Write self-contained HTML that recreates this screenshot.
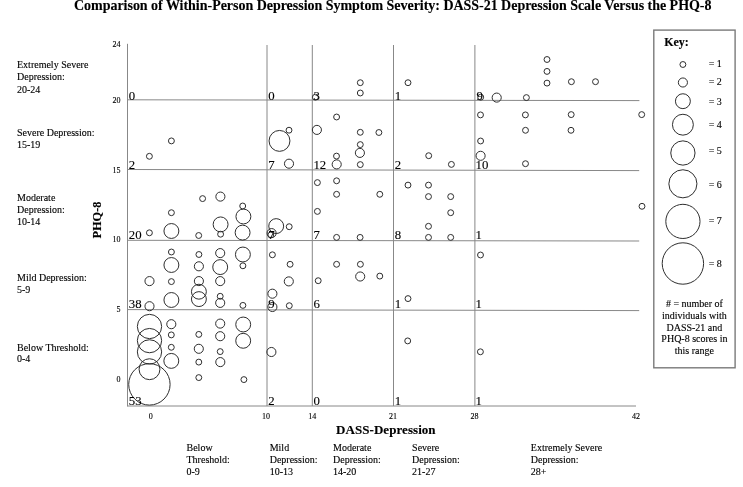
<!DOCTYPE html>
<html><head><meta charset="utf-8"><style>
html,body{margin:0;padding:0;background:#fff;}
svg{display:block;will-change:transform;}
text{font-family:"Liberation Serif",serif;fill:#000;stroke:#000;stroke-width:0.12px;}
</style></head><body>
<svg width="743" height="487" viewBox="0 0 743 487">
<rect width="743" height="487" fill="#fff"/>
<text x="74" y="9.6" font-size="14" font-weight="bold" fill="#000" stroke-width="0" textLength="637.5" lengthAdjust="spacing">Comparison of Within-Person Depression Symptom Severity: DASS-21 Depression Scale Versus the PHQ-8</text>
<g stroke="#888" stroke-width="1" fill="none">
<line x1="127.5" y1="99.8" x2="639.4" y2="100.6"/>
<line x1="127.5" y1="169.5" x2="639.2" y2="170.6"/>
<line x1="127.5" y1="240.3" x2="639.2" y2="241.0"/>
<line x1="127.5" y1="309.6" x2="639.2" y2="310.6"/>
<line x1="127.5" y1="406.0" x2="636" y2="406.0"/>
<line x1="267.0" y1="45" x2="267.0" y2="406"/>
<line x1="312.3" y1="45" x2="312.3" y2="406"/>
<line x1="393.5" y1="45" x2="393.5" y2="406"/>
<line x1="474.9" y1="45" x2="474.9" y2="406"/>
<line x1="127.5" y1="43.8" x2="127.5" y2="406.5"/>
</g>
<g stroke="#2e2e2e" stroke-width="1.0" fill="none">
<circle cx="315.4" cy="97.2" r="2.95"/><circle cx="360.3" cy="82.7" r="2.95"/><circle cx="360.3" cy="93.0" r="2.95"/><circle cx="408.0" cy="82.7" r="2.95"/><circle cx="480.7" cy="97.2" r="2.95"/><circle cx="496.7" cy="97.6" r="4.55"/><circle cx="526.4" cy="97.6" r="2.95"/><circle cx="547.0" cy="59.5" r="2.95"/><circle cx="547.0" cy="71.4" r="2.95"/><circle cx="547.0" cy="83.1" r="2.95"/><circle cx="571.4" cy="81.7" r="2.95"/><circle cx="595.5" cy="81.7" r="2.95"/><circle cx="171.4" cy="140.9" r="2.95"/><circle cx="149.4" cy="156.3" r="2.95"/><circle cx="279.5" cy="140.9" r="10.45"/><circle cx="289.0" cy="130.2" r="2.95"/><circle cx="289.0" cy="163.7" r="4.55"/><circle cx="316.9" cy="129.9" r="4.55"/><circle cx="336.6" cy="117.0" r="2.95"/><circle cx="360.3" cy="132.3" r="2.95"/><circle cx="378.9" cy="132.5" r="2.95"/><circle cx="360.3" cy="144.6" r="2.95"/><circle cx="359.9" cy="152.9" r="4.55"/><circle cx="360.3" cy="164.6" r="2.95"/><circle cx="336.5" cy="156.1" r="2.95"/><circle cx="336.7" cy="164.4" r="4.55"/><circle cx="428.7" cy="155.7" r="2.95"/><circle cx="451.4" cy="164.4" r="2.95"/><circle cx="480.5" cy="114.9" r="2.95"/><circle cx="480.6" cy="141.0" r="2.95"/><circle cx="480.6" cy="155.8" r="4.55"/><circle cx="525.4" cy="114.9" r="2.95"/><circle cx="525.5" cy="130.3" r="2.95"/><circle cx="525.5" cy="163.7" r="2.95"/><circle cx="571.2" cy="114.6" r="2.95"/><circle cx="571.0" cy="130.3" r="2.95"/><circle cx="641.7" cy="114.6" r="2.95"/><circle cx="149.4" cy="232.8" r="2.95"/><circle cx="171.4" cy="212.7" r="2.95"/><circle cx="171.4" cy="231.0" r="7.45"/><circle cx="198.7" cy="235.5" r="2.95"/><circle cx="202.6" cy="198.6" r="2.95"/><circle cx="220.4" cy="196.6" r="4.55"/><circle cx="220.6" cy="224.4" r="7.45"/><circle cx="220.6" cy="234.2" r="2.95"/><circle cx="242.7" cy="206.0" r="2.95"/><circle cx="243.4" cy="216.5" r="7.45"/><circle cx="242.6" cy="232.6" r="7.45"/><circle cx="276.2" cy="226.1" r="7.45"/><circle cx="289.2" cy="226.7" r="2.95"/><circle cx="271.6" cy="233.1" r="4.55"/><circle cx="270.8" cy="235.0" r="2.95"/><circle cx="317.4" cy="182.6" r="2.95"/><circle cx="336.6" cy="180.8" r="2.95"/><circle cx="336.6" cy="194.3" r="2.95"/><circle cx="379.8" cy="194.3" r="2.95"/><circle cx="317.4" cy="211.4" r="2.95"/><circle cx="336.6" cy="237.4" r="2.95"/><circle cx="360.1" cy="237.4" r="2.95"/><circle cx="408.0" cy="185.1" r="2.95"/><circle cx="428.5" cy="185.1" r="2.95"/><circle cx="428.5" cy="196.6" r="2.95"/><circle cx="450.7" cy="196.6" r="2.95"/><circle cx="450.7" cy="212.7" r="2.95"/><circle cx="428.5" cy="226.3" r="2.95"/><circle cx="428.5" cy="237.4" r="2.95"/><circle cx="450.7" cy="237.4" r="2.95"/><circle cx="642.0" cy="206.3" r="2.95"/><circle cx="149.5" cy="281.1" r="4.55"/><circle cx="149.5" cy="306.2" r="4.55"/><circle cx="171.4" cy="252.0" r="2.95"/><circle cx="171.4" cy="265.0" r="7.45"/><circle cx="171.4" cy="281.6" r="2.95"/><circle cx="171.4" cy="300.0" r="7.45"/><circle cx="198.9" cy="254.5" r="2.95"/><circle cx="198.9" cy="266.3" r="4.55"/><circle cx="198.9" cy="281.1" r="4.55"/><circle cx="198.9" cy="291.7" r="7.45"/><circle cx="198.9" cy="299.1" r="7.45"/><circle cx="220.2" cy="253.1" r="4.55"/><circle cx="220.2" cy="267.1" r="7.45"/><circle cx="220.2" cy="281.1" r="4.55"/><circle cx="220.2" cy="296.3" r="2.95"/><circle cx="220.2" cy="302.9" r="4.55"/><circle cx="242.9" cy="254.5" r="7.45"/><circle cx="242.9" cy="265.8" r="2.95"/><circle cx="242.9" cy="305.4" r="2.95"/><circle cx="272.4" cy="254.8" r="2.95"/><circle cx="290.1" cy="264.3" r="2.95"/><circle cx="288.8" cy="281.4" r="4.55"/><circle cx="272.4" cy="293.7" r="4.55"/><circle cx="272.4" cy="307.0" r="4.55"/><circle cx="289.3" cy="305.7" r="2.95"/><circle cx="336.6" cy="264.3" r="2.95"/><circle cx="360.4" cy="264.3" r="2.95"/><circle cx="360.2" cy="276.5" r="4.55"/><circle cx="379.8" cy="276.1" r="2.95"/><circle cx="318.2" cy="280.7" r="2.95"/><circle cx="408.0" cy="298.6" r="2.95"/><circle cx="480.5" cy="255.0" r="2.95"/><circle cx="149.5" cy="326.5" r="12.15"/><circle cx="149.5" cy="340.6" r="12.15"/><circle cx="149.5" cy="351.9" r="12.15"/><circle cx="149.5" cy="369.2" r="10.45"/><circle cx="149.4" cy="384.4" r="20.7"/><circle cx="171.3" cy="324.2" r="4.55"/><circle cx="171.3" cy="334.9" r="2.95"/><circle cx="171.3" cy="347.3" r="2.95"/><circle cx="171.3" cy="360.9" r="7.45"/><circle cx="198.8" cy="334.4" r="2.95"/><circle cx="198.8" cy="348.8" r="4.55"/><circle cx="198.8" cy="362.1" r="2.95"/><circle cx="198.8" cy="377.6" r="2.95"/><circle cx="220.2" cy="323.6" r="4.55"/><circle cx="220.2" cy="336.2" r="4.55"/><circle cx="220.2" cy="351.6" r="2.95"/><circle cx="220.3" cy="362.1" r="4.55"/><circle cx="243.2" cy="324.5" r="7.45"/><circle cx="243.2" cy="340.8" r="7.45"/><circle cx="243.9" cy="379.6" r="2.95"/><circle cx="271.4" cy="352.0" r="4.55"/><circle cx="407.7" cy="340.9" r="2.95"/><circle cx="480.4" cy="351.8" r="2.95"/>
</g>
<g font-size="12.8"><text x="128.8" y="99.5">0</text><text x="268.3" y="99.5">0</text><text x="313.4" y="99.5">3</text><text x="394.7" y="99.5">1</text><text x="476.4" y="99.5">9</text><text x="128.8" y="168.6">2</text><text x="268.3" y="168.6">7</text><text x="313.4" y="168.6">12</text><text x="394.7" y="168.6">2</text><text x="475.6" y="168.6">10</text><text x="128.8" y="238.6">20</text><text x="268.3" y="238.6">7</text><text x="313.4" y="238.6">7</text><text x="394.7" y="238.6">8</text><text x="475.6" y="238.6">1</text><text x="128.8" y="308.4">38</text><text x="268.3" y="308.4">9</text><text x="313.4" y="308.4">6</text><text x="394.7" y="308.4">1</text><text x="475.6" y="308.4">1</text><text x="128.8" y="404.6">53</text><text x="268.3" y="404.6">2</text><text x="313.4" y="404.6">0</text><text x="394.7" y="404.6">1</text><text x="475.6" y="404.6">1</text></g>
<g font-size="8" text-anchor="end"><text x="120.5" y="46.9">24</text><text x="120.5" y="102.7">20</text><text x="120.5" y="172.7">15</text><text x="120.5" y="242.3">10</text><text x="120.5" y="311.9">5</text><text x="120.5" y="381.9">0</text></g>
<g font-size="8" text-anchor="middle"><text x="150.7" y="419">0</text><text x="266.0" y="419">10</text><text x="312.2" y="419">14</text><text x="393.0" y="419">21</text><text x="474.5" y="419">28</text><text x="635.9" y="419">42</text></g>
<g font-size="10"><text x="17" y="68.0">Extremely Severe</text><text x="17" y="80.3">Depression:</text><text x="17" y="92.6">20-24</text><text x="17" y="135.7">Severe Depression:</text><text x="17" y="147.9">15-19</text><text x="17" y="200.7">Moderate</text><text x="17" y="212.9">Depression:</text><text x="17" y="225.1">10-14</text><text x="17" y="280.6">Mild Depression:</text><text x="17" y="293.2">5-9</text><text x="17" y="350.5">Below Threshold:</text><text x="17" y="361.6">0-4</text></g>
<g font-size="10"><text x="186.5" y="450.8">Below</text><text x="186.5" y="462.7">Threshold:</text><text x="186.5" y="474.6">0-9</text><text x="269.7" y="450.8">Mild</text><text x="269.7" y="462.7">Depression:</text><text x="269.7" y="474.6">10-13</text><text x="333.0" y="450.8">Moderate</text><text x="333.0" y="462.7">Depression:</text><text x="333.0" y="474.6">14-20</text><text x="412.1" y="450.8">Severe</text><text x="412.1" y="462.7">Depression:</text><text x="412.1" y="474.6">21-27</text><text x="530.8" y="450.8">Extremely Severe</text><text x="530.8" y="462.7">Depression:</text><text x="530.8" y="474.6">28+</text></g>
<text transform="translate(100.5,220.1) rotate(-90)" text-anchor="middle" font-size="12.3" font-weight="bold" fill="#000" stroke-width="0">PHQ-8</text>
<text x="336" y="433.7" font-size="13" font-weight="bold" fill="#000" stroke-width="0" textLength="99.6" lengthAdjust="spacing">DASS-Depression</text>
<rect x="653.8" y="30.1" width="81.3" height="337.7" fill="none" stroke="#7a7a7a" stroke-width="1.4"/>
<text x="664.2" y="46" font-size="12" font-weight="bold" fill="#000" stroke-width="0">Key:</text>
<g stroke="#2e2e2e" stroke-width="1.0" fill="none"><circle cx="682.9" cy="64.5" r="2.95"/><circle cx="682.9" cy="82.5" r="4.55"/><circle cx="682.9" cy="101.2" r="7.45"/><circle cx="682.9" cy="124.7" r="10.45"/><circle cx="682.9" cy="153.0" r="12.15"/><circle cx="682.9" cy="183.8" r="14.05"/><circle cx="682.9" cy="221.4" r="17.1"/><circle cx="682.9" cy="263.5" r="20.7"/></g>
<g font-size="10"><text x="708.7" y="66.9">= 1</text><text x="708.7" y="84.7">= 2</text><text x="708.7" y="104.8">= 3</text><text x="708.7" y="128.3">= 4</text><text x="708.7" y="154.1">= 5</text><text x="708.7" y="187.9">= 6</text><text x="708.7" y="224.0">= 7</text><text x="708.7" y="266.7">= 8</text></g>
<g font-size="10" text-anchor="middle"><text x="694.4" y="306.7"># = number of</text><text x="694.4" y="318.6">individuals with</text><text x="694.4" y="330.5">DASS-21 and</text><text x="694.4" y="342.4">PHQ-8 scores in</text><text x="694.4" y="354.3">this range</text></g>
</svg>
</body></html>
